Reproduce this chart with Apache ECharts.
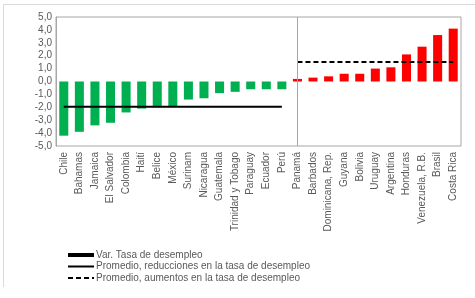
<!DOCTYPE html>
<html>
<head>
<meta charset="utf-8">
<script src="https://cdn.jsdelivr.net/npm/echarts@6/dist/echarts.min.js"></script>
<style>
  html, body { margin: 0; padding: 0; background: #fff; }
  #chart { width: 475px; height: 298px; }
</style>
</head>
<body>
<div id="chart"></div>
<script>
// paises con reduccion / aumento de la tasa de desempleo
var paisesBaja = ['Chile', 'Bahamas', 'Jamaica', 'El Salvador', 'Colombia', 'Haití', 'Belice', 'México',
  'Surinam', 'Nicaragua', 'Guatemala', 'Trinidad y Tobago', 'Paraguay', 'Ecuador', 'Perú'];
var paisesSube = ['Panamá', 'Barbados', 'Dominicana, Rep.', 'Guyana', 'Bolivia', 'Uruguay', 'Argentina',
  'Honduras', 'Venezuela, R.B.', 'Brasil', 'Costa Rica'];

var varBaja = [-4.2, -3.9, -3.4, -3.2, -2.4, -2.1, -2.0, -1.9, -1.4, -1.3, -0.9, -0.8, -0.6, -0.6, -0.6];
var varSube = [0.2, 0.3, 0.4, 0.6, 0.6, 1.0, 1.1, 2.1, 2.7, 3.6, 4.1];

var promBaja = -1.95;
var promSube = 1.52;

var yTicks = [-5, -4, -3, -2, -1, 0, 1, 2, 3, 4, 5];

var categorias = paisesBaja.concat(paisesSube);

var barras = [];
varBaja.forEach(function (v) {
  barras.push({ value: v, itemStyle: { color: '#00B050' } });
});
varSube.forEach(function (v) {
  barras.push({ value: v, itemStyle: { color: '#FF0000' } });
});

var lineaBaja = categorias.map(function (c, i) { return i < paisesBaja.length ? promBaja : null; });
var lineaSube = categorias.map(function (c, i) { return i >= paisesBaja.length ? promSube : null; });

var chart = echarts.init(document.getElementById('chart'));
var fuente = 'Liberation Sans, Arial, sans-serif';

var option = {
  animation: false,
  textStyle: { fontFamily: fuente },
  grid: {
    left: 56, right: 14, top: 17, bottom: 152,
    show: true, borderColor: '#a6a6a6', borderWidth: 1
  },
  legend: {
    orient: 'vertical',
    left: 62, top: 245,
    itemWidth: 26, itemHeight: 4, itemGap: 1.5,
    textStyle: { fontSize: 10, color: '#595959', fontFamily: fuente, padding: [0, 0, 0, -3] },
    data: [
      { name: 'Var. Tasa de desempleo', icon: 'rect' },
      { name: 'Promedio, reducciones en la tasa de desempleo', itemStyle: { opacity: 0 } },
      { name: 'Promedio, aumentos en la tasa de desempleo', itemStyle: { opacity: 0 } }
    ]
  },
  xAxis: {
    type: 'category',
    data: categorias,
    axisLine: { show: false },
    axisTick: { show: false },
    axisLabel: {
      interval: 0, rotate: 90, fontSize: 10, color: '#595959', margin: 6, fontFamily: fuente
    }
  },
  yAxis: {
    type: 'value',
    min: yTicks[0], max: yTicks[yTicks.length - 1], interval: 1,
    axisLine: { show: true, lineStyle: { color: '#a6a6a6' } },
    axisTick: { show: false },
    splitLine: { show: false },
    axisLabel: {
      fontSize: 10, color: '#595959', margin: 4, fontFamily: fuente,
      formatter: function (v) { return v.toFixed(1).replace('.', ','); }
    }
  },
  graphic: [
    { type: 'line', shape: { x1: 3.5, y1: 4.5, x2: 475, y2: 4.5 }, style: { stroke: '#d9d9d9', lineWidth: 1 } },
    { type: 'line', shape: { x1: 3.5, y1: 4.5, x2: 3.5, y2: 287 }, style: { stroke: '#d9d9d9', lineWidth: 1 } }
  ],
  series: [
    {
      name: 'Var. Tasa de desempleo',
      type: 'bar',
      barWidth: '58%',
      itemStyle: { color: '#000' },
      data: barras,
      markLine: {
        silent: true,
        symbol: 'none',
        label: { show: false },
        lineStyle: { color: '#a6a6a6', width: 1, type: 'solid' },
        data: [{ xAxis: paisesBaja.length - 0.5 }]
      }
    },
    {
      name: 'Promedio, reducciones en la tasa de desempleo',
      type: 'line',
      symbol: 'none',
      lineStyle: { color: '#000', width: 2 },
      itemStyle: { color: '#000' },
      data: lineaBaja
    },
    {
      name: 'Promedio, aumentos en la tasa de desempleo',
      type: 'line',
      symbol: 'none',
      lineStyle: { color: '#000', width: 2, type: [5, 3] },
      itemStyle: { color: '#000' },
      data: lineaSube
    }
  ]
};

chart.setOption(option);
</script>
</body>
</html>
